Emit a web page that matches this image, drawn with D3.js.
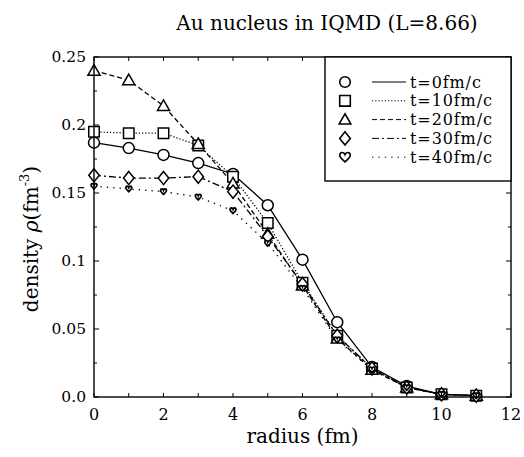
<!DOCTYPE html>
<html>
<head>
<meta charset="utf-8">
<script src="https://cdn.jsdelivr.net/npm/d3@7"></script>
<style>
  body { margin: 0; background: #fff; }
  text { font-family: "DejaVu Serif", serif; fill: #000; }
</style>
</head>
<body>
<div id="chart"></div>
<script>
// radius in fm
var radius = [0, 1, 2, 3, 4, 5, 6, 7, 8, 9, 10, 11];
// density values for each time step
var rho_t0  = [0.187, 0.183, 0.178, 0.172, 0.164, 0.141, 0.101, 0.055, 0.022, 0.008, 0.002, 0.001];
var rho_t10 = [0.195, 0.194, 0.194, 0.185, 0.162, 0.128, 0.084, 0.045, 0.021, 0.007, 0.002, 0.001];
var rho_t20 = [0.240, 0.233, 0.214, 0.186, 0.157, 0.120, 0.082, 0.043, 0.020, 0.007, 0.002, 0.001];
var rho_t30 = [0.163, 0.161, 0.161, 0.162, 0.151, 0.118, 0.083, 0.045, 0.021, 0.007, 0.002, 0.001];
var rho_t40 = [0.155, 0.153, 0.151, 0.147, 0.137, 0.113, 0.080, 0.042, 0.020, 0.007, 0.002, 0.001];
var labels  = ["t=0fm/c", "t=10fm/c", "t=20fm/c", "t=30fm/c", "t=40fm/c"];
var xTicks = [0, 2, 4, 6, 8, 10, 12];
var yTicks = [0, 0.05, 0.1, 0.15, 0.2, 0.25];
var yTickLabels = ["0.0", "0.05", "0.1", "0.15", "0.2", "0.25"];

var W = 524, H = 457;
var margin = {top: 57, right: 13, bottom: 60, left: 94};
var width = W - margin.left - margin.right,
    height = H - margin.top - margin.bottom;

var svg = d3.select("#chart").append("svg")
  .attr("width", W).attr("height", H);

var x = d3.scaleLinear().domain([0, 12]).range([margin.left, margin.left + width]);
var y = d3.scaleLinear().domain([0, 0.25]).range([margin.top + height, margin.top]);

// series definitions: style per curve
var series = [
  {vals: rho_t0,  dash: null,       sym: "circle",   size: 1.1},
  {vals: rho_t10, dash: "1.2,2",    sym: "square",   size: 1.05},
  {vals: rho_t20, dash: "5,3",      sym: "triangle", size: 1.1},
  {vals: rho_t30, dash: "7,3,2,3",  sym: "diamond",  size: 1.05},
  {vals: rho_t40, dash: "1.4,5",    sym: "heart",    size: 0.6}
];

function symbolPath(sym, s) {
  // s ~ half size
  if (sym == "circle") {
    return "M" + s + ",0A" + s + "," + s + " 0 1,1 " + (-s) + ",0A" + s + "," + s + " 0 1,1 " + s + ",0Z";
  }
  if (sym == "square") {
    return "M" + (-s) + "," + (-s) + "H" + s + "V" + s + "H" + (-s) + "Z";
  }
  if (sym == "triangle") {
    var h = s * 1.1;
    return "M0," + (-h) + "L" + (s * 1.1) + "," + (h * 0.75) + "L" + (-s * 1.1) + "," + (h * 0.75) + "Z";
  }
  if (sym == "diamond") {
    return "M0," + (-s * 1.25) + "L" + s + ",0L0," + (s * 1.25) + "L" + (-s) + ",0Z";
  }
  // heart
  var k = s;
  return "M0," + (k * 0.9) +
    "C" + (-k * 0.4) + "," + (k * 0.5) + " " + (-k * 1.1) + "," + (0) + " " + (-k * 1.0) + "," + (-k * 0.45) +
    "C" + (-k * 0.9) + "," + (-k * 1.0) + " " + (-k * 0.2) + "," + (-k * 1.05) + " 0," + (-k * 0.5) +
    "C" + (k * 0.2) + "," + (-k * 1.05) + " " + (k * 0.9) + "," + (-k * 1.0) + " " + (k * 1.0) + "," + (-k * 0.45) +
    "C" + (k * 1.1) + "," + (0) + " " + (k * 0.4) + "," + (k * 0.5) + " 0," + (k * 0.9) + "Z";
}

var line = d3.line().x(function(d, i) { return x(radius[i]); }).y(function(d) { return y(d); });

// curves
series.forEach(function(s) {
  svg.append("path")
    .datum(s.vals)
    .attr("d", line)
    .attr("fill", "none")
    .attr("stroke", "#000")
    .attr("stroke-width", 1.3)
    .attr("stroke-dasharray", s.dash);
});

// markers (open symbols)
series.forEach(function(s) {
  svg.selectAll(null)
    .data(s.vals)
    .enter()
    .append("path")
    .attr("transform", function(d, i) { return "translate(" + x(radius[i]) + "," + y(d) + ")"; })
    .attr("d", symbolPath(s.sym, 5 * s.size))
    .attr("fill", "#fff")
    .attr("stroke", "#000")
    .attr("stroke-width", s.sym == "heart" ? 1.8 : 1.5);
});

// frame
svg.append("rect")
  .attr("x", margin.left).attr("y", margin.top)
  .attr("width", width).attr("height", height)
  .attr("fill", "none").attr("stroke", "#000").attr("stroke-width", 1.4);

// ticks inside the frame
var xAll = d3.range(0, 13, 1);
xAll.forEach(function(v) {
  svg.append("line").attr("x1", x(v)).attr("x2", x(v))
    .attr("y1", y(0)).attr("y2", y(0) - 4).attr("stroke", "#000");
  svg.append("line").attr("x1", x(v)).attr("x2", x(v))
    .attr("y1", y(0.25)).attr("y2", y(0.25) + 4).attr("stroke", "#000");
});
d3.range(0, 0.2501, 0.025).forEach(function(v, i) {
  var len = i % 2 == 0 ? 5 : 3;
  svg.append("line").attr("x1", x(0)).attr("x2", x(0) + len)
    .attr("y1", y(v)).attr("y2", y(v)).attr("stroke", "#000");
  svg.append("line").attr("x1", x(12)).attr("x2", x(12) - len)
    .attr("y1", y(v)).attr("y2", y(v)).attr("stroke", "#000");
});

// tick labels
svg.selectAll(".xt").data(xTicks).enter().append("text")
  .attr("x", function(d) { return x(d); })
  .attr("y", y(0) + 23)
  .attr("text-anchor", "middle")
  .style("font-size", "16px")
  .text(function(d) { return d; });

svg.selectAll(".yt").data(yTicks).enter().append("text")
  .attr("x", x(0) - 8)
  .attr("y", function(d) { return y(d) + 5; })
  .attr("text-anchor", "end")
  .style("font-size", "15.5px")
  .text(function(d, i) { return yTickLabels[i]; });

// axis titles
svg.append("text")
  .attr("x", (x(0) + x(12)) / 2)
  .attr("y", y(0) + 46)
  .attr("text-anchor", "middle")
  .style("font-size", "20px")
  .text("radius (fm)");

var yl = svg.append("text")
  .attr("transform", "translate(38," + (y(0.125) + 12) + ")rotate(-90)")
  .attr("text-anchor", "middle")
  .style("font-size", "20px");
yl.append("tspan").text("density ");
yl.append("tspan").style("font-style", "italic").text("\u03c1");
yl.append("tspan").text("(fm");
yl.append("tspan").attr("dy", -9).style("font-size", "13px").text("-3");
yl.append("tspan").attr("dy", 9).text(")");

// title
svg.append("text")
  .attr("x", 327)
  .attr("y", 30)
  .attr("text-anchor", "middle")
  .style("font-size", "20px")
  .text("Au nucleus in IQMD (L=8.66)");

// legend
var lg = svg.append("g");
lg.append("rect")
  .attr("x", 325).attr("y", margin.top)
  .attr("width", x(12) - 325).attr("height", 124)
  .attr("fill", "#fff").attr("stroke", "#000").attr("stroke-width", 1.4);
series.forEach(function(s, i) {
  var ry = 82 + i * 18.8;
  lg.append("path")
    .attr("transform", "translate(345," + ry + ")")
    .attr("d", symbolPath(s.sym, 5.3))
    .attr("fill", "#fff").attr("stroke", "#000").attr("stroke-width", 1.6);
  lg.append("line")
    .attr("x1", 372).attr("x2", 406).attr("y1", ry).attr("y2", ry)
    .attr("stroke", "#000").attr("stroke-width", 1)
    .attr("stroke-dasharray", s.dash);
  lg.append("text")
    .attr("x", 410).attr("y", ry + 5.5)
    .style("font-size", "16px")
    .style("letter-spacing", "0.9px")
    .text(labels[i]);
});
</script>
</body>
</html>
